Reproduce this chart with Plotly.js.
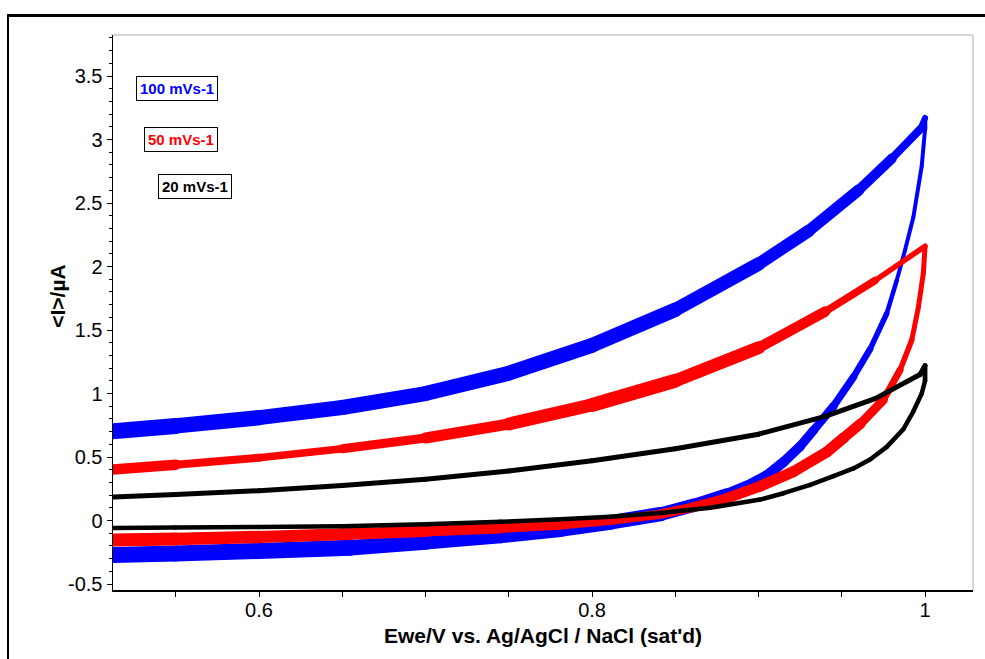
<!DOCTYPE html>
<html>
<head>
<meta charset="utf-8">
<script src="https://cdn.plot.ly/plotly-3.0.1.min.js"></script>
<style>
  html, body { margin: 0; padding: 0; background: #fff; }
  #wrap { position: relative; width: 985px; height: 659px; }
  #chart { position: absolute; left: 0; top: 0; width: 985px; height: 659px; }
  #frame { position: absolute; left: 7px; top: 14px; width: 978px; height: 645px;
           border-top: 3px solid #000; border-left: 2px solid #000; box-sizing: border-box;
           pointer-events: none; z-index: 10; }
  .scatterlayer .js-line { stroke-linecap: round !important; stroke-linejoin: round !important; }
</style>
</head>
<body>
<div id="wrap"><div id="chart"></div><div id="frame"></div></div>
<script>
// ---- data (potential V, current µA), one closed loop per scan rate ----
const blueV = [0.50,0.55,0.60,0.65,0.70,0.75,0.80,0.85,0.90,0.93,0.96,0.98,0.997,1.0,
               1.0,0.998,0.993,0.988,0.983,0.977,0.967,0.957,0.945,0.933,0.925,0.915,0.905,
               0.893,0.881,0.861,0.841,0.811,0.781,0.745,0.70,0.655,0.60,0.55,0.50];
const blueI = [0.69,0.745,0.81,0.89,1.00,1.16,1.38,1.66,2.02,2.28,2.60,2.85,3.08,3.17,
               3.08,2.79,2.39,2.13,1.89,1.63,1.35,1.13,0.90,0.71,0.585,0.46,0.355,
               0.27,0.205,0.12,0.05,-0.015,-0.07,-0.12,-0.17,-0.215,-0.24,-0.26,-0.275];

const redV = [0.50,0.55,0.60,0.65,0.70,0.75,0.80,0.85,0.90,0.94,0.97,1.0,
              0.999,0.996,0.992,0.985,0.975,0.961,0.951,0.941,0.921,0.901,
              0.881,0.861,0.841,0.811,0.781,0.745,0.70,0.655,0.60,0.55,0.50];
const redI = [0.39,0.44,0.495,0.565,0.65,0.76,0.91,1.10,1.36,1.645,1.89,2.16,
              1.95,1.68,1.42,1.185,0.95,0.76,0.65,0.54,0.385,0.27,
              0.175,0.105,0.05,0.0,-0.035,-0.06,-0.085,-0.106,-0.13,-0.145,-0.155];

const blackV = [0.50,0.55,0.60,0.65,0.70,0.75,0.80,0.85,0.90,0.94,0.97,0.997,1.0,
                1.0,0.998,0.993,0.987,0.977,0.967,0.957,0.945,0.931,0.915,
                0.901,0.871,0.841,0.811,0.781,0.745,0.70,0.65,0.60,0.55,0.50];
const blackI = [0.18,0.205,0.235,0.275,0.325,0.39,0.47,0.565,0.68,0.82,0.96,1.15,1.22,
                1.10,1.0,0.86,0.72,0.58,0.48,0.41,0.35,0.28,0.215,
                0.165,0.10,0.06,0.03,0.01,-0.01,-0.03,-0.045,-0.05,-0.055,-0.06];

const seriesNames = ['100 mVs-1','50 mVs-1','20 mVs-1'];
const yTickVals = [-0.5,0,0.5,1,1.5,2,2.5,3,3.5];
const yTickText = ['-0.5','0','0.5','1','1.5','2','2.5','3','3.5'];
const xTickVals = [0.6,0.8,1];
const xTickText = ['0.6','0.8','1'];

// ---- styling: stroke width at each point mimics the thickness of the noisy bands ----
const blueW  = [16,16,15,15,15,15,15,14,13,12,11,9,7,5,
                4,4,4,4,4,5,6,7,8,9,9.5,10,10.5,
                11,12,13,14,15,15,15,15,16,16,16,16];
const redW   = [12,9,7,8,10,12,14,14,12,9,6,5,
                5,5,5,6,8,10,11,11,11,11,
                10,10,9,9,9,10,11,12,12,13,13];
const blackW = [5,5,5,5,5,5,5,5,5,5,5,5,5,
                4.5,4.5,4.5,4.5,4.5,4.5,4.5,4.5,4.5,4.5,
                4.5,4.5,4.5,4.5,4.5,4.5,4.5,4.5,4.5,4.5,4.5];

const styles = [
  {V: blueV, I: blueI, W: blueW, color: '#0000ff'},
  {V: redV, I: redI, W: redW, color: '#ff0000'},
  {V: blackV, I: blackI, W: blackW, color: '#000000'}
];

const traces = [];
styles.forEach((s, k) => {
  for (let i = 0; i < s.V.length - 1; i++) {
    traces.push({
      x: [s.V[i], s.V[i + 1]], y: [s.I[i], s.I[i + 1]],
      type: 'scatter', mode: 'lines', name: seriesNames[k], showlegend: false,
      line: {color: s.color, width: (s.W[i] + s.W[i + 1]) / 2},
      hoverinfo: 'skip'
    });
  }
});

const labelFont = {family: 'Liberation Sans, Arial, sans-serif', size: 15, color: '#000'};
const annos = [];
[
  {x: 0.551, y: 3.40, text: '<b>' + seriesNames[0] + '</b>', color: '#0000ff'},
  {x: 0.553, y: 3.00, text: '<b>' + seriesNames[1] + '</b>', color: '#ff0000'},
  {x: 0.5616, y: 2.63, text: '<b>' + seriesNames[2] + '</b>', color: '#000000'}
].forEach(a => {
  annos.push({
    x: a.x, y: a.y, xref: 'x', yref: 'y', text: a.text, showarrow: false,
    font: Object.assign({}, labelFont, {color: a.color}),
    bgcolor: '#ffffff', bordercolor: '#000', borderwidth: 1, borderpad: 3,
    xanchor: 'center', yanchor: 'middle'
  });
});

annos.push({
  xref: 'paper', yref: 'paper', x: 0.5, y: -0.082, xanchor: 'center', yanchor: 'middle',
  text: "<b>Ewe/V vs. Ag/AgCl / NaCl (sat'd)</b>", showarrow: false,
  font: {family: 'Liberation Sans, Arial, sans-serif', size: 21, color: '#000'}
});
annos.push({
  xref: 'paper', yref: 'paper', x: -0.064, y: 0.53, xanchor: 'center', yanchor: 'middle',
  text: '<b>&lt;I&gt;/µA</b>', textangle: -90, showarrow: false,
  font: {family: 'Liberation Sans, Arial, sans-serif', size: 21, color: '#000'}
});

const tickFont = {family: 'Liberation Sans, Arial, sans-serif', size: 20, color: '#000'};

const layout = {
  width: 985, height: 659,
  margin: {l: 113, r: 12, t: 35, b: 69},
  paper_bgcolor: '#ffffff', plot_bgcolor: '#ffffff',
  showlegend: false,
  xaxis: {
    range: [0.5123, 1.0288], showgrid: false, zeroline: false,
    showline: true, linecolor: '#000', linewidth: 1.5,
    tickvals: xTickVals, ticktext: xTickText, ticks: 'outside', ticklen: 5, tickwidth: 1, tickcolor: '#000',
    minor: {dtick: 0.05, tick0: 0, ticks: 'outside', ticklen: 5, tickcolor: '#000', tickwidth: 1},
    tickfont: tickFont, ticklabelstandoff: -4
  },
  yaxis: {
    range: [-0.547, 3.823], showgrid: false, zeroline: false,
    showline: true, linecolor: '#000', linewidth: 1.5,
    tickvals: yTickVals, ticktext: yTickText, ticks: 'outside', ticklen: 5, tickwidth: 1, tickcolor: '#000',
    minor: {dtick: 0.1, tick0: 0, ticks: 'outside', ticklen: 3, tickcolor: '#000', tickwidth: 1},
    tickfont: tickFont, ticklabelstandoff: 0
  },
  shapes: [
    {type: 'line', xref: 'paper', yref: 'paper', x0: 0, x1: 1, y0: 1, y1: 1, line: {color: '#c8c8c8', width: 1.5}},
    {type: 'line', xref: 'paper', yref: 'paper', x0: 1, x1: 1, y0: 0, y1: 1, line: {color: '#c8c8c8', width: 1.5}}
  ],
  annotations: annos
};

Plotly.newPlot('chart', traces, layout, {staticPlot: true, displayModeBar: false});
</script>
</body>
</html>
